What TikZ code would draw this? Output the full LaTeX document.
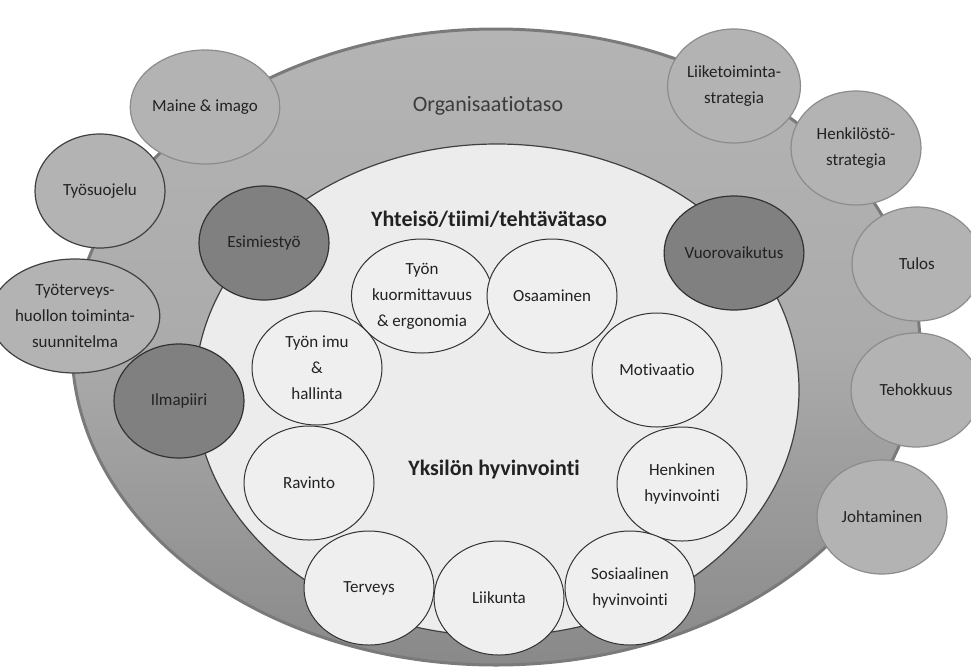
\documentclass[tikz,border=0pt]{standalone}
\usepackage{fontspec}
\setmainfont{Carlito}[Ligatures=NoCommon]
\usetikzlibrary{shapes.geometric}
\definecolor{bandtop}{HTML}{B4B4B4}
\definecolor{bandmid}{HTML}{ABABAB}
\definecolor{bandbot}{HTML}{898989}
\definecolor{bandline}{HTML}{7A7A7A}
\definecolor{innerfill}{HTML}{ECECEC}
\definecolor{circfill}{HTML}{EFEFEF}
\definecolor{outfill}{HTML}{B3B3B3}
\definecolor{outline}{HTML}{8C8C8C}
\definecolor{darkfill}{HTML}{808080}
\definecolor{txt}{HTML}{222222}
\definecolor{orgtxt}{HTML}{3C3C3C}
\tikzset{
  bub/.style={ellipse, minimum width=130pt, minimum height=114pt, inner sep=0pt,
    align=center, font=\fontsize{17}{26}\selectfont, text=txt},
  outbub/.style={bub, fill=outfill, draw=outline, line width=1.2pt},
  outbubdk/.style={bub, fill=outfill, draw=black!75, line width=1.2pt},
  darkbub/.style={bub, fill=darkfill, draw=black!80, line width=1.2pt},
  inbub/.style={bub, fill=circfill, draw=black!80, line width=1pt},
}
\begin{document}
\begin{tikzpicture}[x=1pt,y=-1pt]
\useasboundingbox (0,0) rectangle (971,670);
\node[ellipse, minimum width=848pt, minimum height=636pt, inner sep=0pt,
  top color=bandtop, bottom color=bandbot, middle color=bandmid,
  draw=bandline, line width=3pt] (org) at (496,347) {};
\node[ellipse, minimum width=604pt, minimum height=492pt, inner sep=0pt,
  fill=innerfill, draw=black!75, line width=1.2pt] (team) at (497,390) {};
\node[font=\fontsize{22}{26}\selectfont, text=orgtxt] (orgt) at (488,106) {Organisaatiotaso};
\node[font=\fontsize{22}{26}\selectfont\bfseries, text=txt] (teamt) at (489,219) {Yhteisö/tiimi/tehtävätaso};
\node[font=\fontsize{22}{26}\selectfont\bfseries, text=txt] (indt) at (494,470) {Yksilön hyvinvointi};
% outer ring
\node[outbub] (maine) at (205,107) {Maine \& imago};
\node[outbubdk] (suoj) at (100,191) {Työsuojelu};
\node[outbubdk] (tth) at (75,316) {Työterveys-\\huollon toiminta-\\suunnitelma};
\node[outbub] (liike) at (734,86) {Liiketoiminta-\\strategia};
\node[outbub] (henk) at (856,148) {Henkilöstö-\\strategia};
\node[outbub] (tulos) at (917,264) {Tulos};
\node[outbub] (teho) at (916,390) {Tehokkuus};
\node[outbub] (joht) at (882,517) {Johtaminen};
% dark
\node[darkbub] (esim) at (264,243) {Esimiestyö};
\node[darkbub] (ilma) at (179,401) {Ilmapiiri};
\node[darkbub] (vuoro) at (734,253) {Vuorovaikutus};
% inner circles
\node[inbub] (kuorm) at (422,296) {Työn\\kuormittavuus\\\& ergonomia};
\node[inbub] (osaa) at (552,296) {Osaaminen};
\node[inbub] (imu) at (317,368) {Työn imu\\\&\\hallinta};
\node[inbub] (moti) at (657,370) {Motivaatio};
\node[inbub] (ravi) at (309,483) {Ravinto};
\node[inbub] (henki) at (682,484) {Henkinen\\hyvinvointi};
\node[inbub] (terv) at (369,588) {Terveys};
\node[inbub] (liik) at (499,598) {Liikunta};
\node[inbub] (sosi) at (630,588) {Sosiaalinen\\hyvinvointi};
\end{tikzpicture}
\end{document}
